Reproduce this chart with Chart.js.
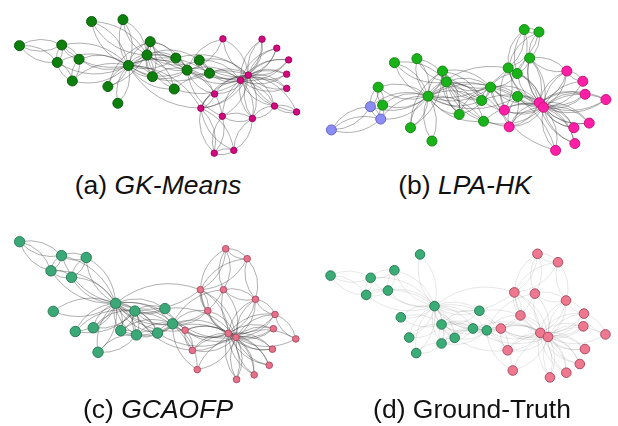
<!DOCTYPE html>
<html>
<head>
<meta charset="utf-8">
<script src="https://cdn.jsdelivr.net/npm/chart.js@4"></script>
<style>
  body { margin: 0; background: #fff; width: 618px; height: 426px; position: relative; overflow: hidden; }
  canvas { position: absolute; }
  .cap { position: absolute; font-family: "Liberation Sans", Arial, sans-serif; font-size: 26.5px; color: #111;
         white-space: nowrap; transform: translateX(-50%); line-height: 30px; }
</style>
</head>
<body>
<canvas id="chartA" width="310" height="170" style="left:0;top:0"></canvas>
<canvas id="chartB" width="308" height="170" style="left:310px;top:0"></canvas>
<canvas id="chartC" width="310" height="175" style="left:0;top:220px"></canvas>
<canvas id="chartD" width="308" height="175" style="left:310px;top:220px"></canvas>
<div class="cap" style="left:158px;top:170px">(a) <i>GK-Means</i></div>
<div class="cap" style="left:465px;top:170px">(b) <i>LPA-HK</i></div>
<div class="cap" style="left:158px;top:394px">(c) <i>GCAOFP</i></div>
<div class="cap" style="left:472px;top:394px">(d) Ground-Truth</div>
<script>
// Zachary karate club, 34 members, 78 ties
const edges = [
  [0,1],[0,2],[0,3],[0,4],[0,5],[0,6],[0,7],[0,8],[0,10],[0,11],[0,12],[0,13],[0,17],[0,19],[0,21],[0,31],
  [1,2],[1,3],[1,7],[1,13],[1,17],[1,19],[1,21],[1,30],
  [2,3],[2,7],[2,8],[2,9],[2,13],[2,27],[2,28],[2,32],
  [3,7],[3,12],[3,13],
  [4,6],[4,10],
  [5,6],[5,10],[5,16],
  [6,16],
  [8,30],[8,32],[8,33],
  [9,33],
  [13,33],
  [14,32],[14,33],[15,32],[15,33],[18,32],[18,33],
  [19,33],[20,32],[20,33],[22,32],[22,33],
  [23,25],[23,27],[23,29],[23,32],[23,33],
  [24,25],[24,27],[24,31],
  [25,31],
  [26,29],[26,33],
  [27,33],
  [28,31],[28,33],
  [29,32],[29,33],
  [30,32],[30,33],
  [31,32],[31,33],
  [32,33]
];

// node layouts (panel units, 3 per pixel, y downward)
const layoutA_x = [382,440,565,450,207,174,160,457,635,677,228,349,318,530,799,845,42,267,882,525,876,365,876,769,650,711,907,675,651,838,603,608,732,756];
const layoutA_y = [192,158,207,115,242,126,182,228,217,106,172,314,260,168,107,136,128,50,174,268,220,44,266,363,475,466,342,356,284,323,175,330,240,223];
const layoutB_x = [350,407,545,395,208,170,202,447,629,748,194,362,295,517,840,905,48,245,853,523,805,315,808,667,650,696,833,628,588,783,603,600,697,710];
const layoutB_y = [291,245,262,210,320,325,365,350,292,466,262,436,393,305,285,302,400,183,378,372,393,170,444,168,76,84,243,218,336,210,390,200,312,327];
const layoutC_x = [342,402,520,407,204,173,140,358,559,597,250,147,287,473,835,832,42,216,822,496,775,272,720,779,686,753,905,679,630,840,582,607,694,718];
const layoutC_y = [249,274,315,351,165,95,144,337,336,463,101,275,407,345,331,397,50,340,449,266,480,328,495,236,73,105,364,205,273,285,401,205,346,359];
const layoutD_x = [370,392,533,392,225,171,157,433,577,614,245,325,313,490,834,839,46,265,823,510,781,291,730,780,691,755,903,683,638,836,598,619,700,724];
const layoutD_y = [258,317,336,378,208,167,222,360,330,465,143,92,409,330,323,396,160,294,444,273,472,359,487,240,90,117,349,218,288,282,400,214,344,357];

// community found by each method, one entry per member
const commA = [0,0,0,0,0,0,0,0,0,1,0,0,0,0,1,1,0,0,1,0,1,0,1,1,1,1,1,1,1,1,0,1,1,1];
const commB = [0,0,0,0,0,2,2,0,0,1,0,0,0,0,1,1,2,0,1,0,1,0,1,0,0,0,1,0,1,1,1,0,1,1];
const commC = [0,0,0,0,0,0,0,0,1,1,0,0,0,0,1,1,0,0,1,0,1,0,1,1,1,1,1,1,1,1,1,1,1,1];
const commD = [0,0,0,0,0,0,0,0,1,1,0,0,0,0,1,1,0,0,1,0,1,0,1,1,1,1,1,1,1,1,1,1,1,1];

// draws every tie as a pair of opposite arcs under the nodes
const edgePlugin = {
  id: 'edges',
  beforeDatasetsDraw(chart, args, opts) {
    const xs = chart.scales.x, ys = chart.scales.y, ctx = chart.ctx;
    ctx.save();
    ctx.strokeStyle = opts.color;
    ctx.lineWidth = opts.width;
    edges.forEach(([a, b]) => {
      const x1 = xs.getPixelForValue(opts.nx[a]), y1 = ys.getPixelForValue(opts.ny[a]);
      const x2 = xs.getPixelForValue(opts.nx[b]), y2 = ys.getPixelForValue(opts.ny[b]);
      const mx = (x1 + x2) / 2, my = (y1 + y2) / 2;
      const dx = x2 - x1, dy = y2 - y1;
      [1, -1].forEach(s => {
        ctx.beginPath();
        ctx.moveTo(x1, y1);
        ctx.quadraticCurveTo(mx - s * dy * opts.bend, my + s * dx * opts.bend, x2, y2);
        ctx.stroke();
      });
    });
    ctx.restore();
  }
};

function makeNet(id, nx, ny, comm, styles, w, h, edgeColor) {
  const datasets = styles.map((st, c) => ({
    data: nx.map((x, i) => ({ x: x, y: ny[i] })).filter((p, i) => comm[i] === c),
    backgroundColor: st.fill,
    borderColor: st.line,
    borderWidth: 1,
    pointRadius: st.r,
    clip: false
  }));
  return new Chart(document.getElementById(id).getContext('2d'), {
    type: 'scatter',
    data: { datasets: datasets },
    options: {
      responsive: false,
      animation: false,
      events: [],
      layout: { padding: 0 },
      scales: {
        x: { type: 'linear', min: 0, max: w * 3, display: false },
        y: { type: 'linear', min: 0, max: h * 3, reverse: true, display: false }
      },
      plugins: {
        legend: { display: false },
        tooltip: { enabled: false },
        edges: { nx: nx, ny: ny, color: edgeColor, width: 0.9, bend: 0.28 }
      }
    },
    plugins: [edgePlugin]
  });
}

makeNet('chartA', layoutA_x, layoutA_y, commA, [
  { fill: '#0c7f0c', line: '#0a5e0a', r: 5 },
  { fill: '#d4087f', line: '#a0065f', r: 3.2 }
], 310, 170, 'rgba(60,60,60,0.45)');

makeNet('chartB', layoutB_x, layoutB_y, commB, [
  { fill: '#19b319', line: '#128a12', r: 5 },
  { fill: '#ff1ea6', line: '#c8147f', r: 5 },
  { fill: '#8c8cf5', line: '#6464c8', r: 5 }
], 308, 170, 'rgba(60,60,60,0.45)');

makeNet('chartC', layoutC_x, layoutC_y, commC, [
  { fill: '#3aa977', line: '#2a7d57', r: 5.2 },
  { fill: '#e8718a', line: '#b04e66', r: 3.3 }
], 310, 175, 'rgba(60,60,60,0.45)');

makeNet('chartD', layoutD_x, layoutD_y, commD, [
  { fill: '#3aad77', line: '#2a7d57', r: 4.8 },
  { fill: '#ee7890', line: '#ad4d62', r: 4.8 }
], 308, 175, 'rgba(60,60,60,0.14)');
</script>
</body>
</html>
